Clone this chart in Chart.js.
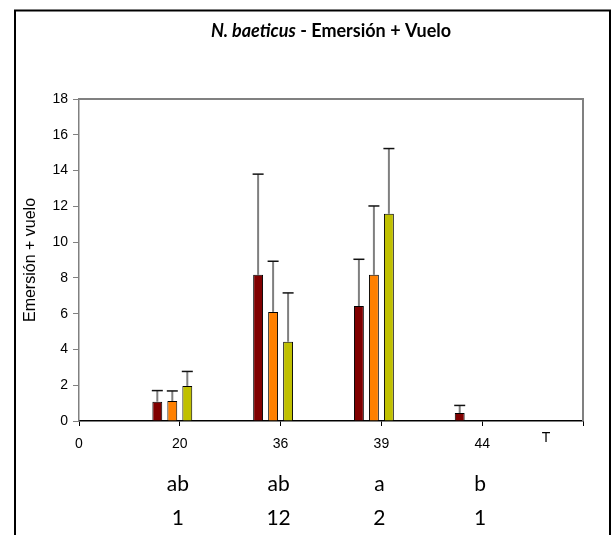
<!DOCTYPE html>
<html><head><meta charset="utf-8">
<script src="https://cdn.jsdelivr.net/npm/chart.js@4.4.1/dist/chart.umd.min.js"></script>
<style>html,body{margin:0;padding:0;background:#fff;}canvas{display:block;}</style>
</head><body>
<canvas id="c" width="613" height="535"></canvas>
<script>
// ---- data ----
const categories = ['0', '20', '36', '39', '44', ''];
const seriesDarkRed = [null, 1.08, 8.17, 6.43, 0.45, null];
const seriesOrange  = [null, 1.12, 6.10, 8.17, null, null];
const seriesYellow  = [null, 1.96, 4.43, 11.58, null, null];
const seriesEmpty   = [null, null, null, null, null, null];
const errDarkRed = [null, 0.62, 5.63, 2.61, 0.42, null];
const errOrange  = [null, 0.56, 2.83, 3.85, null, null];
const errYellow  = [null, 0.81, 2.73, 3.65, null, null];
const letterRow = ['', 'ab', 'ab', 'a', 'b', ''];
const countRow  = ['', '1', '12', '2', '1', ''];
const yMin = 0, yMax = 18, yStep = 2;
const titleItalic = 'N. baeticus';
const titleRest = ' - Emersión + Vuelo';
const yTitle = 'Emersión + vuelo';
const xTitle = 'T';

const errors = [errDarkRed, errOrange, errYellow, null];

const decor = {
  id: 'decor',
  beforeDraw(chart) {
    const ctx = chart.ctx;
    ctx.save();
    ctx.fillStyle = '#fff';
    ctx.fillRect(0, 0, chart.width, chart.height);
    ctx.restore();
  },
  beforeDatasetsDraw(chart) {
    const {ctx, chartArea: a} = chart;
    ctx.save();
    ctx.strokeStyle = '#808080';
    ctx.lineWidth = 2;
    ctx.beginPath();
    ctx.moveTo(a.left, a.top);
    ctx.lineTo(a.right, a.top);
    ctx.lineTo(a.right, a.bottom);
    ctx.stroke();
    ctx.restore();
  },
  afterDatasetsDraw(chart) {
    const ctx = chart.ctx;
    const ys = chart.scales.y;
    ctx.save();
    errors.forEach((errs, i) => {
      if (!errs) return;
      const meta = chart.getDatasetMeta(i);
      const vals = chart.data.datasets[i].data;
      meta.data.forEach((el, j) => {
        if (vals[j] == null || errs[j] == null) return;
        const x = el.x;
        const y0 = ys.getPixelForValue(vals[j]);
        const y1 = ys.getPixelForValue(vals[j] + errs[j]);
        ctx.strokeStyle = '#7f7f7f';
        ctx.lineWidth = 2;
        ctx.beginPath();
        ctx.moveTo(x, y0);
        ctx.lineTo(x, y1);
        ctx.stroke();
        ctx.strokeStyle = '#111';
        ctx.lineWidth = 1.5;
        ctx.beginPath();
        ctx.moveTo(x - 5.5, y1);
        ctx.lineTo(x + 5.5, y1);
        ctx.stroke();
      });
    });
    ctx.restore();
  },
  afterDraw(chart) {
    const {ctx, chartArea: a} = chart;
    const xs = chart.scales.x;
    ctx.save();
    // title
    ctx.fillStyle = '#000';
    ctx.textBaseline = 'alphabetic';
    ctx.textAlign = 'left';
    ctx.font = 'italic bold 18px Lato';
    const w1 = ctx.measureText(titleItalic).width;
    ctx.font = 'bold 18px Lato';
    const w2 = ctx.measureText(titleRest).width;
    const cx = (a.left + a.right) / 2;
    let sx = cx - (w1 + w2) / 2;
    ctx.font = 'italic bold 18px Lato';
    ctx.fillText(titleItalic, sx, 36.5);
    ctx.font = 'bold 18px Lato';
    ctx.fillText(titleRest, sx + w1, 36.5);
    // axis title T
    ctx.font = '14px "Liberation Sans"';
    ctx.textAlign = 'center';
    ctx.textBaseline = 'middle';
    ctx.fillText(xTitle, a.right - 37, a.bottom + 17);
    // rows below
    ctx.font = '21px Lato';
    ctx.textBaseline = 'alphabetic';
    categories.forEach((c, j) => {
      const x = xs.getPixelForValue(j);
      if (letterRow[j]) ctx.fillText(letterRow[j], x - 2, a.bottom + 70);
      if (countRow[j]) ctx.fillText(countRow[j], x - 2, a.bottom + 104);
    });
    // outer frame
    ctx.strokeStyle = '#000';
    ctx.lineWidth = 2;
    ctx.strokeRect(15, 10.5, 595, 600);
    ctx.restore();
  }
};

const barCommon = {borderColor: '#000', borderWidth: 1, categoryPercentage: 0.595, barPercentage: 0.66};

new Chart(document.getElementById('c'), {
  type: 'bar',
  data: {
    labels: categories,
    datasets: [
      Object.assign({label: 'A', data: seriesDarkRed, backgroundColor: '#800000'}, barCommon),
      Object.assign({label: 'B', data: seriesOrange, backgroundColor: '#FF8000'}, barCommon),
      Object.assign({label: 'C', data: seriesYellow, backgroundColor: '#C0C000'}, barCommon),
      Object.assign({label: 'D', data: seriesEmpty, backgroundColor: '#ffffff'}, barCommon)
    ]
  },
  options: {
    responsive: false,
    animation: false,
    devicePixelRatio: 1,
    layout: {padding: {left: 15, right: 30, top: 99, bottom: 0}},
    plugins: {legend: {display: false}, title: {display: false}, tooltip: {enabled: false}},
    scales: {
      x: {
        type: 'category',
        offset: false,
        grid: {display: true, offset: false, drawOnChartArea: false, drawTicks: true, tickLength: 5, color: '#000', lineWidth: 1},
        border: {display: true, color: '#000', width: 1.5},
        ticks: {font: {family: 'Liberation Sans', size: 14}, color: '#000', padding: 10, maxRotation: 0, autoSkip: false},
        afterFit(s) { s.height = 114; }
      },
      y: {
        min: yMin, max: yMax,
        ticks: {stepSize: yStep, font: {family: 'Liberation Sans', size: 14}, color: '#000', padding: 5},
        grid: {display: true, drawOnChartArea: false, drawTicks: true, tickLength: 6, color: '#808080', lineWidth: 1},
        border: {display: true, color: '#808080', width: 1.5},
        title: {display: true, text: yTitle, font: {family: 'Liberation Sans', size: 16}, color: '#000', padding: {top: 6, bottom: 0}},
        afterFit(s) { s.width = 64; }
      }
    }
  },
  plugins: [decor]
});
</script>
</body></html>
